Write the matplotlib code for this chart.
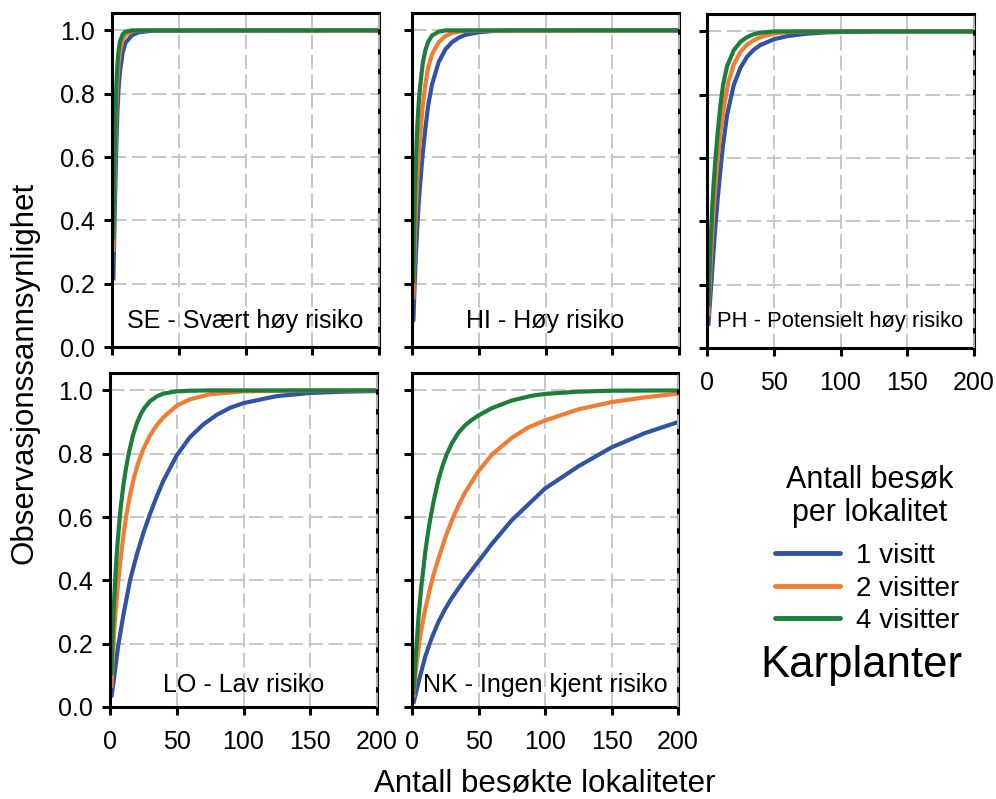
import matplotlib
matplotlib.use("Agg")
import matplotlib.pyplot as plt

# ---------------- data ----------------
PANEL_LABELS = ["SE - Svært høy risiko", "HI - Høy risiko", "PH - Potensielt høy risiko",
                "LO - Lav risiko", "NK - Ingen kjent risiko"]
SERIES_LABELS = ["1 visitt", "2 visitter", "4 visitter"]
LEGEND_TITLE = "Antall besøk\nper lokalitet"
X_TICKS = [0, 50, 100, 150, 200]
Y_TICKS = [0.0, 0.2, 0.4, 0.6, 0.8, 1.0]
Y_TICK_LABELS = ["0.0", "0.2", "0.4", "0.6", "0.8", "1.0"]

# SE - Svært høy risiko
SE_X1 = [1, 2, 3, 4, 5, 6, 8, 10, 15, 20, 30, 200]
SE_Y1 = [0.21, 0.42, 0.60, 0.74, 0.82, 0.87, 0.93, 0.96, 0.985, 0.994, 0.999, 1.0]
SE_X2 = [1, 2, 3, 4, 5, 6, 8, 10, 15, 20, 200]
SE_Y2 = [0.30, 0.55, 0.73, 0.84, 0.90, 0.935, 0.97, 0.985, 0.997, 1.0, 1.0]
SE_X4 = [1, 2, 3, 4, 5, 6, 8, 10, 15, 200]
SE_Y4 = [0.34, 0.62, 0.80, 0.89, 0.94, 0.965, 0.988, 0.996, 1.0, 1.0]

# HI - Høy risiko
HI_X1 = [1, 2, 3, 4, 5, 6, 8, 10, 12, 15, 20, 25, 30, 35, 40, 50, 60, 75, 200]
HI_Y1 = [0.08, 0.20, 0.30, 0.38, 0.45, 0.51, 0.61, 0.69, 0.76, 0.83, 0.90, 0.94, 0.963, 0.977,
         0.986, 0.994, 0.998, 1.0, 1.0]
HI_X2 = [1, 2, 3, 4, 5, 6, 8, 10, 12, 15, 20, 25, 30, 40, 200]
HI_Y2 = [0.15, 0.32, 0.44, 0.53, 0.60, 0.66, 0.76, 0.83, 0.88, 0.925, 0.963, 0.982, 0.992, 0.999, 1.0]
HI_X4 = [1, 2, 3, 4, 5, 6, 8, 10, 12, 15, 20, 25, 200]
HI_Y4 = [0.20, 0.45, 0.60, 0.70, 0.77, 0.82, 0.895, 0.937, 0.963, 0.984, 0.996, 1.0, 1.0]

# PH - Potensielt høy risiko
PH_X1 = [1, 2, 3, 4, 5, 6, 8, 10, 12, 15, 20, 25, 30, 35, 40, 50, 60, 75, 90, 100, 125, 200]
PH_Y1 = [0.07, 0.13, 0.19, 0.25, 0.31, 0.37, 0.47, 0.56, 0.64, 0.735, 0.83, 0.885, 0.92, 0.942,
         0.957, 0.975, 0.985, 0.993, 0.997, 0.998, 1.0, 1.0]
PH_X2 = [1, 2, 3, 4, 5, 6, 8, 10, 13, 16, 20, 25, 30, 35, 40, 50, 60, 75, 200]
PH_Y2 = [0.10, 0.20, 0.29, 0.37, 0.44, 0.50, 0.60, 0.68, 0.77, 0.84, 0.895, 0.935, 0.958, 0.972,
         0.982, 0.993, 0.998, 1.0, 1.0]
PH_X4 = [1, 2, 3, 4, 5, 6, 8, 10, 12, 15, 20, 25, 30, 35, 40, 50, 200]
PH_Y4 = [0.13, 0.26, 0.36, 0.45, 0.52, 0.58, 0.68, 0.765, 0.83, 0.89, 0.94, 0.967, 0.982, 0.991,
         0.996, 1.0, 1.0]

# LO - Lav risiko
LO_X1 = [1, 3, 6, 10, 15, 20, 25, 30, 35, 40, 50, 60, 70, 80, 90, 100, 125, 150, 175, 200]
LO_Y1 = [0.03, 0.09, 0.19, 0.29, 0.40, 0.48, 0.55, 0.61, 0.665, 0.715, 0.795, 0.853, 0.893, 0.923,
         0.945, 0.96, 0.982, 0.992, 0.996, 0.998]
LO_X2 = [1, 2, 3, 4, 6, 8, 10, 12, 15, 18, 21, 25, 30, 35, 40, 50, 60, 75, 100, 150, 200]
LO_Y2 = [0.06, 0.15, 0.23, 0.29, 0.39, 0.47, 0.54, 0.60, 0.67, 0.725, 0.77, 0.815, 0.858, 0.89,
         0.915, 0.952, 0.972, 0.988, 0.997, 1.0, 1.0]
LO_X4 = [1, 2, 3, 4, 5, 6, 7, 8, 10, 12, 14, 17, 20, 23, 26, 30, 35, 40, 50, 60, 75, 200]
LO_Y4 = [0.10, 0.23, 0.33, 0.41, 0.48, 0.535, 0.585, 0.63, 0.70, 0.755, 0.80, 0.855, 0.895, 0.925,
         0.946, 0.966, 0.981, 0.99, 0.997, 0.999, 1.0, 1.0]

# NK - Ingen kjent risiko
NK_X1 = [1, 5, 10, 15, 20, 25, 30, 40, 50, 60, 75, 90, 100, 125, 150, 175, 200]
NK_Y1 = [0.01, 0.08, 0.16, 0.22, 0.27, 0.31, 0.345, 0.405, 0.46, 0.515, 0.59, 0.65, 0.69, 0.76,
         0.82, 0.865, 0.90]
NK_X2 = [1, 3, 5, 7, 10, 13, 16, 20, 25, 30, 35, 40, 50, 60, 75, 87, 100, 125, 150, 175, 200]
NK_Y2 = [0.03, 0.12, 0.19, 0.245, 0.31, 0.365, 0.415, 0.47, 0.535, 0.59, 0.637, 0.678, 0.745, 0.797,
         0.85, 0.882, 0.905, 0.94, 0.963, 0.978, 0.99]
NK_X4 = [1, 3, 5, 7, 10, 12, 14, 17, 20, 23, 26, 30, 35, 40, 45, 50, 60, 75, 90, 100, 125, 150, 200]
NK_Y4 = [0.04, 0.17, 0.29, 0.38, 0.49, 0.55, 0.60, 0.665, 0.72, 0.762, 0.797, 0.833, 0.867, 0.89,
         0.907, 0.921, 0.944, 0.968, 0.983, 0.989, 0.996, 0.999, 1.0]

COLORS = ["#3153a6", "#f07d32", "#1b7f3b"]

# ---------------- figure ----------------
plt.rcParams['font.family'] = ['Liberation Sans', 'DejaVu Sans']
W, H = 996, 799
fig = plt.figure(figsize=(W / 100, H / 100), dpi=100)


def add_ax(l, t, r, b):
    return fig.add_axes([l / W, 1 - b / H, (r - l) / W, (b - t) / H])


panel_boxes = [(112, 13, 379, 347), (412, 13, 679, 347), (707, 14, 974, 348),
               (110, 373, 377, 707), (412, 373, 678, 707)]
panel_data = [
    [(SE_X1, SE_Y1), (SE_X2, SE_Y2), (SE_X4, SE_Y4)],
    [(HI_X1, HI_Y1), (HI_X2, HI_Y2), (HI_X4, HI_Y4)],
    [(PH_X1, PH_Y1), (PH_X2, PH_Y2), (PH_X4, PH_Y4)],
    [(LO_X1, LO_Y1), (LO_X2, LO_Y2), (LO_X4, LO_Y4)],
    [(NK_X1, NK_Y1), (NK_X2, NK_Y2), (NK_X4, NK_Y4)],
]
show_ylabels = [True, False, False, True, False]
show_xlabels = [False, False, True, True, True]
label_sizes = [18, 18, 15.8, 18, 18]
label_y = [0.078, 0.078, 0.078, 0.066, 0.066]

grid_style = dict(color="#c3c3c3", linestyle=(0, (8, 3)), linewidth=1.3)
handles = None
for i, box in enumerate(panel_boxes):
    ax = add_ax(*box)
    lines = []
    for (xs, ys), c, lab in zip(panel_data[i], COLORS, SERIES_LABELS):
        ln, = ax.plot(xs, ys, color=c, lw=3.0, label=lab, solid_joinstyle='round',
                      solid_capstyle='butt', zorder=2)
        lines.append(ln)
    if handles is None:
        handles = lines
    ax.set_xlim(0, 200)
    ax.set_ylim(0, 1.055)
    ax.set_xticks(X_TICKS)
    ax.set_yticks(Y_TICKS)
    ax.set_yticklabels(Y_TICK_LABELS)
    ax.grid(True, **grid_style)
    ax.axvline(200, zorder=3, clip_on=False, **grid_style)
    for sp in ax.spines.values():
        sp.set_linewidth(2.2)
        sp.set_color("black")
    ax.tick_params(direction='out', length=5.5, width=2.2, labelsize=18, colors='black')
    ax.tick_params(axis='y', pad=7)
    ax.tick_params(axis='x', pad=11)
    if not show_ylabels[i]:
        ax.tick_params(axis='y', labelleft=False)
    if not show_xlabels[i]:
        ax.tick_params(axis='x', labelbottom=False)
    ax.text(0.5, label_y[i], PANEL_LABELS[i], transform=ax.transAxes, ha='center',
            va='center', fontsize=label_sizes[i], zorder=4)

fig.text(25 / W, 1 - 373 / H, "Observasjonssannsynlighet", rotation=90, fontsize=22.5,
         ha='center', va='center')
fig.text(545 / W, 1 - 792 / H, "Antall besøkte lokaliteter", fontsize=22.5,
         ha='center', va='baseline')

# legend title as separate text, entries as a legend
fig.text(870 / W, 1 - 496.5 / H, LEGEND_TITLE, fontsize=22, ha='center', va='center',
         linespacing=1.15, multialignment='center')
leg = fig.legend(handles, SERIES_LABELS, loc='center left',
                 bbox_to_anchor=(775 / W, 1 - 588.5 / H), frameon=False,
                 fontsize=20, handlelength=2.35, handletextpad=0.55,
                 labelspacing=0.24, borderaxespad=0, borderpad=0)
for ln in leg.get_lines():
    ln.set_linewidth(3.5)
    ln.set_solid_capstyle('round')

fig.text(861 / W, 1 - 665 / H, "Karplanter", fontsize=31.5, ha='center', va='center')

fig.savefig("out.png", dpi=100)
